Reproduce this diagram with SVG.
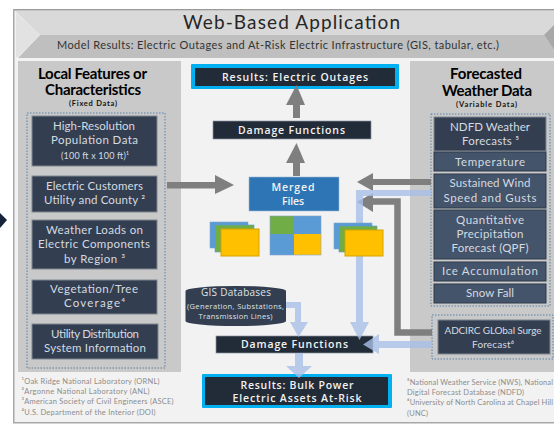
<svg xmlns="http://www.w3.org/2000/svg" width="554" height="425" viewBox="0 0 554 425">
<defs><style>
text{font-family:"Lato","Liberation Sans",sans-serif;text-anchor:middle}
.c{font-family:"Open Sans","DejaVu Sans",sans-serif}
.dark{fill:#333f50;stroke:#7f8792;stroke-width:1}
.dark2{fill:#44546a;stroke:#2f3a4a;stroke-width:1}
.lt{fill:#d5dae1;font-size:11.5px}
.blk{fill:#222b38;stroke:#8b93a0;stroke-width:.7}
.wt{fill:#f2f2f2;font-family:"Open Sans","DejaVu Sans",sans-serif;font-weight:600;font-size:10.5px}
.h{fill:#000;font-weight:700;font-size:15px}
.sm{fill:#111;font-weight:700;font-size:7.5px}
.fn{fill:#8c8c8c;font-size:7.5px;text-anchor:start}
.dot{fill:none;stroke:#5b82a8;stroke-width:1;stroke-dasharray:1.5 1.5}
.grey{fill:#7f7f7f}
.blue{fill:#a9bfe6;opacity:.8}
</style></defs>
<rect x="13" y="9" width="541" height="414" fill="#f2f2f2"/>
<rect x="13" y="9" width="541" height="1.500" fill="#9a9a9a"/>
<rect x="13" y="9" width="1.500" height="414" fill="#a8a8a8"/>
<rect x="13" y="422" width="541" height="1.500" fill="#a8a8a8"/>
<polygon points="15,11 554,11 554,35 40,35" fill="#d9d9d9"/>
<polygon points="40,35 544,35 554,50 554,58 18,58" fill="#bfbfbf"/>
<polygon points="16,13 40,35 18,57 16,57" fill="#e2e2e2"/>
<polygon points="544,35 554,25 554,50" fill="#a8a8a8"/>
<rect x="18" y="61" width="163" height="311" fill="#c9c9c9"/>
<rect x="410" y="61" width="144" height="311" fill="#c9c9c9"/>
<rect x="27" y="113" width="138" height="255" class="dot"/>
<rect x="431" y="114" width="119" height="192" class="dot"/>
<rect x="432" y="315" width="121" height="44" class="dot"/>
<text x="291.500" y="29" font-size="19" fill="#262626" textLength="217">Web-Based Application</text>
<text x="278" y="49" font-size="11" fill="#333" textLength="442">Model Results: Electric Outages and At-Risk Electric Infrastructure (GIS, tabular, etc.)</text>
<text x="92.500" y="79" class="h" textLength="109">Local Features or</text>
<text x="93" y="95" class="h" textLength="96">Characteristics</text>
<text x="93" y="106" class="sm" textLength="48">(Fixed Data)</text>
<text x="486" y="79" class="h" textLength="72">Forecasted</text>
<text x="487" y="96" class="h" textLength="90">Weather Data</text>
<text x="486.500" y="107" class="sm" textLength="61">(Variable Data)</text>
<g id="r1"><rect x="191" y="64" width="208" height="25" fill="#00b0f0" rx="1"/><rect x="195" y="68" width="200" height="18" fill="#222b38"/><text x="295" y="81" class="wt" textLength="146">Results:  Electric  Outages</text></g>
<g id="df1"><rect x="213" y="121" width="158" height="18" class="blk"/><text x="291.500" y="134" class="wt" textLength="107">Damage Functions</text></g>
<g id="merged"><rect x="249" y="177" width="90" height="34" fill="#2e75b6" stroke="#9db8d2" stroke-width=".6"/><text x="293" y="191" class="wt" textLength="43">Merged</text><text x="293" y="205" class="wt" textLength="22">Files</text></g>
<g id="df2"><rect x="216" y="336" width="157" height="17" class="blk"/><text x="294.500" y="348" class="wt" textLength="107">Damage Functions</text></g>
<g id="r2"><rect x="202" y="374" width="190" height="34" fill="#00b0f0" rx="1"/><rect x="205" y="377" width="183" height="28" fill="#222b38"/><text x="297" y="389" class="wt" textLength="113">Results: Bulk Power</text><text x="297" y="402" class="wt" textLength="129">Electric Assets At-Risk</text></g>
<g id="connectors">
<polygon class="grey" points="167,182 215,182 215,175 234,185 215,194 215,188.500 167,188.500"/>
<polygon class="grey" points="293,118 293,105 286,105 296.500,85 305,105 300,105 300,118"/>
<polygon class="grey" points="293,176 293,163 286,163 296.500,143 305,163 300,163 300,176"/>
<polygon class="grey" points="431,179 373,179 373,173 357,182 373,191 373,185 431,185"/>
<path d="M432 332.500H397.500V201.500H372" fill="none" stroke="#7f7f7f" stroke-width="6.500"/>
<polygon class="grey" points="373,193 357,202 373,212"/>
<path class="blue" d="M431 190H356V322H350L359.500 340L369 322H363V196H431Z"/>
<path class="blue" d="M286 302H301V322H308L298.500 337L290 322H295V308H286Z"/>
<path class="blue" d="M432 341H379V334L363 344.500L379 354V348H432Z"/>
<path class="blue" d="M295 353H303V366H312L299 378L286 366H295Z"/>
</g>
<g id="files1"><rect x="210" y="222" width="38" height="26" fill="#5b9bd5" stroke="#7fa6cc" stroke-width=".6"/><rect x="215" y="225" width="39" height="27" fill="#70ad47" stroke="#5b9bd5" stroke-width=".6"/><rect x="221" y="229" width="38" height="27" fill="#ffc000" stroke="#d6a300"/></g>
<g id="files2"><rect x="270" y="216" width="24" height="18" fill="#70ad47"/><rect x="294" y="216" width="27" height="18" fill="#5b9bd5"/><rect x="270" y="234" width="24" height="21" fill="#5b9bd5"/><rect x="294" y="234" width="27" height="21" fill="#ffc000"/><rect x="270" y="216" width="51" height="39" fill="none" stroke="#7fa6cc" stroke-width=".6"/></g>
<g id="files3"><rect x="334" y="223" width="38" height="26" fill="#5b9bd5" stroke="#7fa6cc" stroke-width=".6"/><rect x="339" y="226" width="38" height="26" fill="#70ad47" stroke="#5b9bd5" stroke-width=".6"/><rect x="345" y="230" width="38" height="26" fill="#ffc000" stroke="#d6a300"/></g>
<g id="gis"><path d="M185.500 291A50 5 0 0 1 286 291V321A50 5 0 0 1 185.500 321Z" fill="#333f50"/><text x="236" y="296" font-size="10" fill="#dfe3e8" class="c" textLength="70">GIS Databases</text><text x="235.500" y="309" font-size="7.500" fill="#dfe3e8" class="c" textLength="97">(Generation, Substations,</text><text x="235.500" y="319" font-size="7.500" fill="#dfe3e8" class="c" textLength="74">Transmission Lines)</text></g>
<g id="l1"><rect x="32" y="116" width="125" height="50" class="dark"/><text x="94" y="130" class="lt" textLength="82">High-Resolution</text><text x="94.500" y="144" class="lt" textLength="87">Population Data</text><text x="95" y="159" class="lt" style="font-size:9px" textLength="68">(100 ft x 100 ft)¹</text></g>
<g id="l2"><rect x="32" y="176" width="125" height="36" class="dark"/><text x="94.500" y="190" class="lt" textLength="97">Electric Customers</text><text x="94.500" y="204" class="lt" textLength="101">Utility and County ²</text></g>
<g id="l3"><rect x="32" y="220" width="125" height="49" class="dark"/><text x="94.500" y="234" class="lt" textLength="97">Weather Loads on</text><text x="94" y="248" class="lt" textLength="112">Electric Components</text><text x="94.500" y="263" class="lt" textLength="61">by Region ³</text></g>
<g id="l4"><rect x="32" y="280" width="125" height="34" class="dark"/><text x="94" y="293" class="lt" textLength="88">Vegetation/Tree</text><text x="94.500" y="307" class="lt" textLength="61">Coverage⁴</text></g>
<g id="l5"><rect x="32" y="324" width="126" height="35" class="dark"/><text x="95" y="338" class="lt" textLength="88">Utility Distribution</text><text x="95" y="352" class="lt" textLength="102">System Information</text></g>
<g id="w1"><rect x="434" y="117" width="112" height="34" class="dark"/><text x="490" y="131" class="lt" textLength="80">NDFD Weather</text><text x="490.500" y="145" class="lt" textLength="57">Forecasts ⁵</text></g>
<g id="w2"><rect x="434" y="152" width="112" height="19" class="dark2"/><text x="490" y="166" class="lt" textLength="70">Temperature</text></g>
<g id="w3"><rect x="434" y="174" width="112" height="34" class="dark2"/><text x="490" y="187" class="lt" textLength="81">Sustained Wind</text><text x="490" y="202" class="lt" textLength="93">Speed and Gusts</text></g>
<g id="w4"><rect x="434" y="210" width="112" height="49" class="dark2"/><text x="490" y="224" class="lt" textLength="68">Quantitative</text><text x="490" y="238" class="lt" textLength="67">Precipitation</text><text x="490" y="252" class="lt" textLength="77">Forecast (QPF)</text></g>
<g id="w5"><rect x="434" y="262" width="112" height="19" class="dark2"/><text x="490" y="275" class="lt" textLength="96">Ice Accumulation</text></g>
<g id="w6"><rect x="434" y="284" width="112" height="19" class="dark2"/><text x="490" y="297" class="lt" textLength="48">Snow Fall</text></g>
<g id="w7"><rect x="438" y="320" width="112" height="34" class="dark"/><text x="493" y="334" class="lt" style="font-size:10px" textLength="97">ADCIRC GLObal Surge</text><text x="493" y="348" class="lt" style="font-size:10px" textLength="42">Forecast⁶</text></g>
<text x="21.500" y="384" class="fn" textLength="138">¹Oak Ridge National Laboratory (ORNL)</text>
<text x="21.500" y="394" class="fn" textLength="128">²Argonne National Laboratory (ANL)</text>
<text x="21.500" y="404" class="fn" textLength="152">³American Society of Civil Engineers (ASCE)</text>
<text x="21.500" y="415" class="fn" textLength="134">⁴U.S. Department of the Interior (DOI)</text>
<text x="407" y="385" class="fn" textLength="146">⁵National Weather Service (NWS), National</text>
<text x="407" y="395" class="fn" textLength="117">Digital Forecast Database (NDFD)</text>
<text x="407" y="405" class="fn" textLength="146">⁶University of North Carolina at Chapel Hill</text>
<text x="407" y="416" class="fn" textLength="21">(UNC)</text>
<polygon points="0,213 7,220 0,228" fill="#14233a"/>
</svg>
